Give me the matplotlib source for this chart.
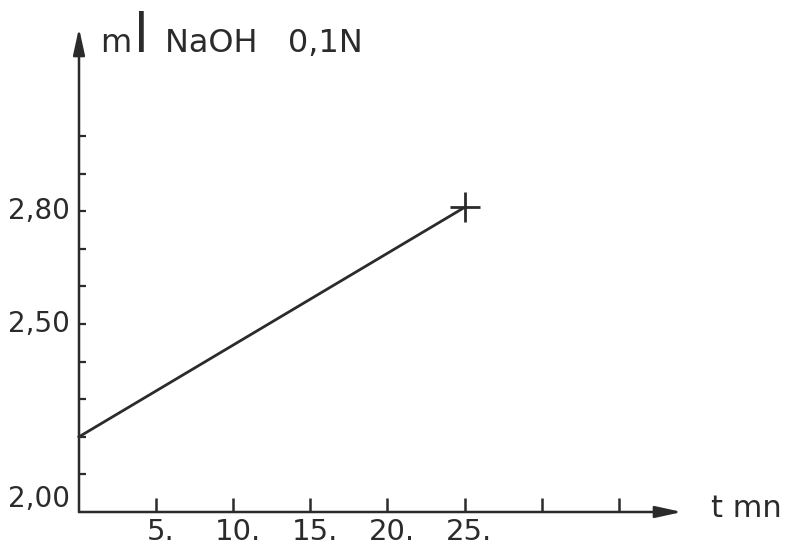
import matplotlib.pyplot as plt

# titration volume vs time
t = [0, 25]
vol = [2.20, 2.81]

xticks = [5, 10, 15, 20, 25, 30, 35]
xlabels = ['5.', '10.', '15.', '20.', '25.']
yticks = [2.0, 2.1, 2.2, 2.3, 2.4, 2.5, 2.6, 2.7, 2.8, 2.9, 3.0]
ylabels = {2.0: '2,00', 2.5: '2,50', 2.8: '2,80'}

ink = '#2b2b2b'
W, H = 787, 542
fig = plt.figure(figsize=(W / 100, H / 100), dpi=100)
ax = fig.add_axes([79 / W, 30 / H, (682 - 79) / W, (512 - 28) / H])
ax.set_xlim(0, 39.1)
ax.set_ylim(2.0, 3.287)
ax.axis('off')

# axes with arrow heads
arrow = dict(arrowstyle='-|>,head_length=1.6,head_width=0.35', color=ink, lw=1.8,
             shrinkA=0, shrinkB=0)
ax.annotate('', xy=(39.1, 2.0), xytext=(0, 2.0), arrowprops=arrow, annotation_clip=False)
ax.annotate('', xy=(0, 3.287), xytext=(0, 2.0), arrowprops=arrow, annotation_clip=False)

# tick marks
for x in xticks:
    ax.plot([x, x], [2.0, 2.037], color=ink, lw=1.8, solid_capstyle='butt', clip_on=False)
for y in yticks[1:]:
    ax.plot([0, 0.45], [y, y], color=ink, lw=1.6, solid_capstyle='butt', clip_on=False)

fs = 20
for x, lab in zip(xticks, xlabels):
    ax.text(x + 0.3, 1.984, lab, ha='center', va='top', fontsize=21, color=ink, clip_on=False)
for y, lab in ylabels.items():
    dy = 0.035 if y == 2.0 else 0
    ax.text(-0.6, y + dy, lab, ha='right', va='center', fontsize=fs, color=ink, clip_on=False)

ax.text(41.0, 2.01, 't mn', ha='left', va='center', fontsize=22, color=ink, clip_on=False)

# y axis title
ax.text(1.4, 3.245, 'm', ha='left', va='center', fontsize=23, color=ink, clip_on=False)
ax.text(3.55, 3.262, 'l', ha='left', va='center', fontsize=38, color=ink, clip_on=False)
ax.text(5.55, 3.245, 'NaOH   0,1N', ha='left', va='center', fontsize=23, color=ink, clip_on=False)

# data line with end cross
ax.plot(t, vol, color=ink, lw=2.0, clip_on=False)
ax.plot(t[-1], vol[-1], marker='+', markersize=22, markeredgewidth=2.0, color=ink, clip_on=False)

fig.savefig('out.png', dpi=100)
